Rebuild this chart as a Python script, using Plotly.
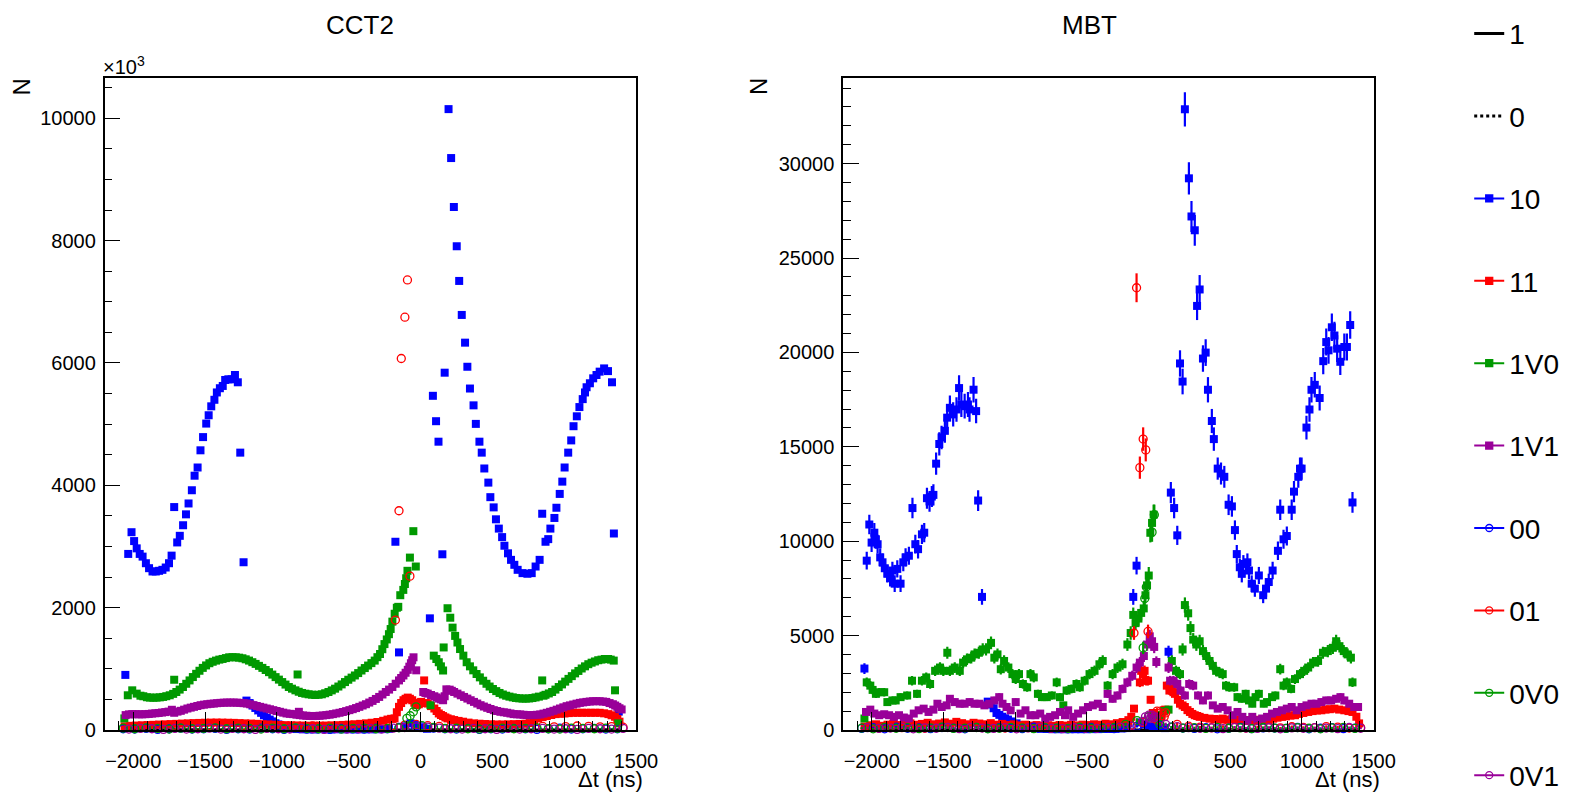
import math
import plotly.graph_objects as go

W, H = 1577, 811
BLUE, RED, GREEN, PURPLE = "#0000ff", "#ff0000", "#009900", "#990099"
FONT = "Liberation Sans, Arial, Helvetica, sans-serif"

LEGEND_NAMES = ["1", "0", "10", "11", "1V0", "1V1", "00", "01", "0V0", "0V1"]
PANEL_TITLES = ["CCT2", "MBT"]
X_RANGE = [-2200, 1500]
Y_RANGE_CCT2 = [0, 10660]
Y_RANGE_MBT = [0, 34540]

# zero-level reference series ("1" and "0")
LINE_1 = [(-2060, 0), (1400, 0)]
LINE_0 = [(-2060, 0), (1400, 0)]

# shared bin centres for the rows of points sitting near zero
ZXA = [-2070, -1990, -1910, -1830, -1750, -1670, -1590, -1510, -1430, -1350, -1270, -1190, -1110, -1030, -950,
       -870, -790, -710, -630, -550, -470, -390, -310, -230, -150, -70, 10, 90, 170, 250, 330, 410, 490, 570,
       650, 730, 810, 890, 970, 1050, 1130, 1210, 1290, 1370]
ZXB = [-2030, -1950, -1870, -1790, -1710, -1630, -1550, -1470, -1390, -1310, -1230, -1150, -1070, -990, -910,
       -830, -750, -670, -590, -510, -430, -350, -270, -190, -110, -30, 50, 130, 210, 290, 370, 450, 530, 610,
       690, 770, 850, 930, 1010, 1090, 1170, 1250, 1330, 1410]

# ---------------- CCT2 (values in units of 10^3) ----------------
CCT2_10 = [(-2055, 900), (-2035, 2878), (-2012, 3233), (-1994, 3088), (-1976, 2969), (-1955, 2878), (-1935, 2834),
           (-1912, 2726), (-1890, 2645), (-1866, 2591), (-1843, 2591), (-1820, 2602), (-1797, 2618), (-1774, 2656),
           (-1751, 2726), (-1733, 2850), (-1715, 3644), (-1694, 3066), (-1676, 3174), (-1653, 3347), (-1633, 3525),
           (-1615, 3703), (-1592, 3919), (-1573, 4157), (-1552, 4291), (-1532, 4572), (-1514, 4788), (-1492, 5009),
           (-1475, 5145), (-1457, 5291), (-1435, 5398), (-1418, 5518), (-1397, 5587), (-1377, 5624), (-1360, 5722),
           (-1338, 5733), (-1315, 5733), (-1292, 5803), (-1272, 5684), (-1255, 4534), (-1232, 2742), (-1212, 480),
           (-1190, 440), (-1170, 400), (-1150, 360), (-1130, 320), (-1110, 280), (-1090, 240), (-1070, 200),
           (-1050, 170), (-1030, 140), (-1010, 110), (-990, 90), (-970, 70), (-950, 55), (-930, 40), (-910, 30),
           (-890, 20), (-860, 15), (-820, 10), (-780, 10), (-740, 8), (-700, 12), (-660, 10), (-620, 9), (-580, 11),
           (-540, 10), (-500, 12), (-460, 9), (-420, 10), (-380, 11), (-340, 10), (-300, 12), (-260, 14), (-220, 20),
           (-175, 3077), (-150, 1268), (-110, 60), (-70, 110), (-40, 80), (-10, 40), (20, 30), (45, 20), (65, 1825),
           (86, 5463), (108, 5048), (125, 4713), (152, 2872), (168, 5841), (195, 10150), (213, 9350), (232, 8550),
           (252, 7908), (269, 7341), (287, 6785), (310, 6332), (326, 5938), (344, 5582), (369, 5307), (385, 5004),
           (410, 4713), (426, 4534), (444, 4275), (472, 4044), (486, 3806), (509, 3639), (525, 3444), (545, 3292),
           (568, 3153), (584, 3012), (609, 2888), (630, 2781), (653, 2700), (676, 2618), (710, 2564), (744, 2554),
           (774, 2564), (801, 2672), (829, 2781), (847, 3535), (870, 3077), (889, 3120), (904, 3292), (932, 3466),
           (946, 3633), (969, 3859), (987, 4060), (1003, 4291), (1028, 4534), (1049, 4734), (1065, 4966),
           (1088, 5128), (1106, 5279), (1129, 5409), (1145, 5518), (1156, 5603), (1179, 5668), (1202, 5749),
           (1225, 5803), (1247, 5858), (1278, 5911), (1305, 5867), (1333, 5684), (1346, 3212), (1380, 300)]

CCT2_11 = [(-2060, 60), (-2020, 68), (-1980, 72), (-1940, 76), (-1900, 80), (-1860, 84), (-1820, 88), (-1780, 92),
           (-1740, 96), (-1700, 100), (-1660, 104), (-1620, 108), (-1580, 112), (-1540, 115), (-1500, 118),
           (-1460, 120), (-1420, 121), (-1380, 120), (-1340, 118), (-1300, 116), (-1260, 112), (-1220, 108),
           (-1180, 104), (-1140, 100), (-1100, 95), (-1060, 90), (-1020, 86), (-980, 82), (-940, 78), (-900, 76),
           (-860, 74), (-820, 72), (-780, 70), (-740, 70), (-700, 70), (-660, 72), (-620, 75), (-580, 78), (-540, 82),
           (-500, 87), (-460, 93), (-420, 100), (-380, 108), (-340, 118), (-300, 130), (-260, 150), (-230, 170),
           (-205, 182), (-181, 189), (-165, 290), (-150, 378), (-135, 440), (-119, 486), (-104, 510), (-89, 529),
           (-74, 510), (-58, 486), (-43, 445), (-27, 405), (-12, 420), (4, 459), (25, 810), (37, 440), (50, 432),
           (73, 390), (96, 351), (112, 310), (127, 270), (142, 245), (157, 227), (173, 205), (188, 189), (211, 175),
           (234, 162), (265, 148), (296, 135), (334, 120), (372, 108), (410, 102), (449, 97), (490, 93), (530, 90),
           (570, 90), (610, 92), (650, 95), (690, 98), (730, 102), (760, 112), (790, 150), (818, 189), (850, 210),
           (879, 227), (910, 245), (940, 259), (970, 265), (1002, 270), (1032, 276), (1063, 281), (1094, 281),
           (1124, 281), (1155, 281), (1186, 281), (1216, 281), (1247, 281), (1278, 272), (1308, 259), (1330, 240),
           (1354, 216), (1370, 180), (1385, 135)]

CCT2_1V0 = [(-2062, 189), (-2038, 567), (-2007, 648), (-1976, 594), (-1950, 560), (-1930, 551), (-1905, 535),
            (-1884, 529), (-1860, 527), (-1838, 529), (-1815, 533), (-1792, 540), (-1770, 552), (-1746, 567),
            (-1722, 590), (-1715, 821), (-1700, 621), (-1677, 660), (-1654, 702), (-1631, 755), (-1608, 810),
            (-1585, 865), (-1562, 918), (-1539, 968), (-1516, 1015), (-1493, 1055), (-1470, 1091), (-1447, 1115),
            (-1424, 1134), (-1401, 1150), (-1378, 1161), (-1355, 1175), (-1332, 1188), (-1309, 1190), (-1286, 1188),
            (-1263, 1182), (-1240, 1172), (-1217, 1155), (-1194, 1134), (-1171, 1108), (-1148, 1080), (-1125, 1048),
            (-1101, 1015), (-1078, 980), (-1055, 945), (-1032, 905), (-1009, 864), (-986, 823), (-963, 783),
            (-940, 742), (-917, 702), (-895, 675), (-871, 648), (-856, 907), (-848, 625), (-825, 605), (-802, 593),
            (-779, 583), (-756, 577), (-733, 572), (-710, 576), (-687, 583), (-664, 600), (-641, 621), (-618, 647),
            (-595, 675), (-572, 710), (-549, 745), (-526, 783), (-503, 821), (-480, 856), (-457, 891), (-434, 930),
            (-411, 972), (-388, 1012), (-365, 1053), (-342, 1093), (-319, 1134), (-300, 1190), (-282, 1242),
            (-266, 1320), (-251, 1404), (-235, 1480), (-220, 1566), (-208, 1650), (-196, 1771), (-180, 1900),
            (-165, 1998), (-155, 2013), (-141, 2203), (-120, 2290), (-109, 2386), (-100, 2480), (-91, 2602),
            (-74, 2818), (-50, 3250), (-33, 2672), (69, 405), (92, 1215), (110, 1160), (127, 1107), (142, 1040),
            (157, 972), (161, 1349), (188, 1990), (207, 1835), (223, 1673), (241, 1538), (257, 1430), (275, 1323),
            (298, 1215), (321, 1107), (344, 1040), (367, 975), (390, 915), (413, 860), (436, 805), (459, 755),
            (481, 710), (504, 670), (527, 635), (550, 605), (573, 580), (596, 560), (619, 545), (642, 533), (664, 523),
            (687, 517), (710, 513), (733, 513), (756, 515), (779, 522), (801, 532), (824, 545), (847, 810), (856, 560),
            (870, 575), (893, 597), (916, 621), (939, 660), (962, 702), (985, 745), (1007, 790), (1030, 835),
            (1053, 880), (1076, 925), (1099, 965), (1122, 1005), (1145, 1040), (1168, 1075), (1191, 1100),
            (1214, 1120), (1237, 1140), (1260, 1150), (1283, 1160), (1306, 1160), (1324, 1150), (1345, 1134),
            (1354, 648), (1376, 108)]

CCT2_1V1 = [(-2053, 243), (-2030, 255), (-2007, 258), (-1984, 258), (-1961, 256), (-1938, 256), (-1915, 258),
            (-1892, 262), (-1869, 268), (-1846, 273), (-1823, 278), (-1800, 285), (-1777, 292), (-1754, 300),
            (-1731, 330), (-1715, 281), (-1692, 300), (-1669, 313), (-1646, 332), (-1623, 351), (-1600, 365),
            (-1577, 378), (-1554, 392), (-1531, 405), (-1508, 414), (-1485, 421), (-1462, 428), (-1439, 432),
            (-1416, 438), (-1393, 443), (-1370, 446), (-1347, 448), (-1324, 448), (-1301, 448), (-1278, 446),
            (-1255, 443), (-1232, 438), (-1209, 432), (-1186, 420), (-1163, 405), (-1140, 392), (-1117, 378),
            (-1094, 365), (-1071, 351), (-1048, 338), (-1025, 324), (-1002, 310), (-979, 297), (-956, 283),
            (-933, 270), (-910, 264), (-887, 259), (-864, 250), (-847, 297), (-841, 243), (-818, 237), (-795, 232),
            (-772, 229), (-749, 227), (-726, 229), (-703, 232), (-680, 237), (-656, 243), (-633, 250), (-610, 259),
            (-587, 270), (-564, 281), (-541, 294), (-518, 308), (-495, 324), (-472, 340), (-449, 358), (-426, 378),
            (-403, 400), (-380, 421), (-357, 448), (-334, 475), (-311, 507), (-288, 540), (-265, 580), (-242, 621),
            (-219, 660), (-196, 702), (-173, 756), (-150, 810), (-135, 850), (-119, 891), (-104, 935), (-89, 983),
            (-78, 1035), (-67, 1091), (-58, 1140), (-49, 1188), (-30, 975), (19, 621), (34, 605), (50, 594),
            (73, 572), (96, 551), (112, 532), (127, 513), (142, 500), (157, 486), (168, 551), (180, 664), (203, 659),
            (218, 640), (234, 621), (257, 594), (280, 567), (303, 540), (326, 513), (349, 486), (372, 459), (395, 432),
            (418, 405), (441, 383), (464, 362), (487, 343), (510, 324), (533, 310), (556, 297), (580, 289), (603, 281),
            (626, 270), (648, 259), (671, 256), (694, 254), (717, 248), (740, 243), (763, 243), (786, 243), (810, 248),
            (833, 254), (856, 267), (879, 281), (902, 297), (925, 313), (948, 332), (971, 351), (994, 370),
            (1017, 389), (1040, 402), (1063, 416), (1086, 430), (1109, 443), (1132, 451), (1155, 459), (1178, 465),
            (1201, 470), (1224, 470), (1247, 470), (1270, 465), (1293, 459), (1316, 440), (1339, 421), (1355, 400),
            (1370, 378), (1385, 355), (1400, 335)]

CCT2_00_ROW = [20, 15, 25, 10, 20, 30, 15, 20, 25, 10, 20, 15, 30, 20, 10, 25, 15, 20, 10, 25, 20, 15, 30, 20, 40,
               60, 50, 30, 20, 15, 25, 10, 20, 15, 25, 20, 10, 20, 30, 15, 20, 25, 15, 20]
CCT2_01_ROW = [50, 60, 45, 55, 65, 50, 60, 70, 55, 50, 65, 60, 45, 55, 60, 50, 65, 55, 45, 60, 50, 55, 65, 70, 80,
               90, 70, 60, 55, 50, 45, 55, 60, 50, 45, 55, 60, 50, 55, 65, 60, 50, 55, 45]
CCT2_01_PEAK = [(-175, 1797), (-150, 3584), (-134, 6073), (-109, 6748), (-91, 7357), (-74, 2515)]
CCT2_0V0_ROW = [30, 20, 35, 25, 15, 30, 20, 25, 35, 20, 30, 25, 15, 30, 20, 35, 25, 20, 30, 15, 25, 30, 20, 25, 35,
                60, 70, 40, 25, 30, 20, 15, 25, 30, 20, 25, 35, 20, 15, 30, 25, 20, 30, 25]
CCT2_0V0_PEAK = [(-95, 190), (-72, 232), (-50, 297), (-31, 378)]
CCT2_0V1_ROW = [15, 25, 20, 10, 25, 15, 20, 30, 15, 25, 20, 10, 25, 20, 15, 30, 20, 10, 25, 15, 20, 25, 15, 30, 40,
                50, 45, 30, 20, 15, 25, 20, 10, 25, 15, 20, 25, 15, 20, 10, 25, 20, 15, 25]

# ---------------- MBT ----------------
MBT_10 = [(-2051, 3254), (-2035, 8968), (-2017, 10884), (-2001, 9926), (-1982, 10449), (-1971, 10100), (-1959, 9839),
          (-1941, 9142), (-1925, 8881), (-1909, 8567), (-1891, 8271), (-1872, 8045), (-1856, 8445), (-1840, 7749),
          (-1822, 8532), (-1799, 7749), (-1780, 8881), (-1764, 9142), (-1741, 9229), (-1716, 11755), (-1696, 9839),
          (-1677, 9578), (-1650, 10362), (-1634, 10449), (-1615, 12278), (-1597, 12104), (-1581, 12365),
          (-1570, 12452), (-1551, 14107), (-1529, 15149), (-1513, 15498), (-1490, 15846), (-1474, 16543),
          (-1455, 17065), (-1432, 16717), (-1409, 16978), (-1391, 18111), (-1375, 17240), (-1352, 17152),
          (-1329, 17240), (-1318, 16978), (-1290, 18024), (-1272, 16891), (-1258, 12153), (-1231, 7049),
          (-1191, 1500), (-1170, 1350), (-1150, 1150), (-1130, 900), (-1110, 800), (-1090, 700), (-1070, 620),
          (-1050, 550), (-1020, 450), (-990, 350), (-960, 250), (-930, 180), (-900, 120), (-860, 80), (-820, 60),
          (-780, 50), (-740, 40), (-700, 40), (-660, 40), (-620, 40), (-580, 40), (-540, 40), (-500, 40), (-460, 45),
          (-420, 45), (-380, 50), (-340, 50), (-300, 60), (-260, 80), (-220, 100), (-176, 7049), (-153, 8704),
          (-130, 400), (-100, 300), (-70, 250), (-40, 200), (-10, 150), (20, 120), (45, 100), (70, 4143),
          (86, 12574), (109, 11755), (131, 10309), (150, 19415), (168, 18457), (184, 32880), (212, 29222),
          (230, 27201), (253, 26470), (269, 22463), (287, 23334), (310, 19676), (329, 19990), (345, 18021),
          (372, 16366), (386, 15408), (413, 13845), (436, 13584), (459, 13410), (489, 11929), (512, 11842),
          (533, 10588), (546, 9316), (567, 8620), (581, 8271), (592, 8794), (620, 8881), (631, 8445), (650, 7749),
          (672, 7487), (700, 8184), (730, 7139), (750, 7487), (769, 7836), (796, 8445), (833, 9490), (849, 11668),
          (872, 10100), (895, 10275), (929, 11668), (945, 12626), (975, 13410), (987, 13840), (998, 13845),
          (1032, 16018), (1053, 16976), (1067, 18021), (1090, 18282), (1124, 17585), (1149, 19537), (1170, 20547),
          (1186, 20111), (1209, 21330), (1227, 20895), (1246, 20198), (1268, 19502), (1296, 20286), (1314, 20286),
          (1337, 21453), (1353, 12051)]

MBT_11 = [(-2050, 180), (-2010, 250), (-1970, 300), (-1930, 220), (-1890, 280), (-1850, 330), (-1810, 260),
          (-1770, 300), (-1730, 350), (-1690, 280), (-1650, 320), (-1610, 380), (-1570, 300), (-1530, 340),
          (-1490, 400), (-1450, 330), (-1410, 430), (-1370, 360), (-1330, 300), (-1290, 380), (-1250, 340),
          (-1210, 300), (-1170, 360), (-1130, 280), (-1090, 320), (-1050, 260), (-1010, 300), (-970, 240),
          (-930, 280), (-890, 230), (-850, 260), (-810, 210), (-770, 250), (-730, 220), (-690, 260), (-650, 230),
          (-610, 270), (-570, 240), (-530, 280), (-490, 260), (-450, 300), (-410, 280), (-370, 330), (-330, 300),
          (-290, 360), (-250, 420), (-210, 520), (-190, 694), (-171, 1129), (-130, 2522), (-121, 3132),
          (-108, 2958), (-97, 3132), (-86, 2609), (-73, 2609), (-55, 1600), (-40, 900), (-20, 600), (0, 500),
          (20, 700), (35, 1042), (47, 1077), (58, 2348), (76, 2087), (93, 2174), (104, 2000), (115, 1913),
          (135, 1600), (150, 1390), (168, 1300), (184, 1216), (202, 1050), (219, 954), (236, 850), (253, 781),
          (270, 740), (287, 694), (320, 640), (356, 600), (390, 580), (420, 560), (448, 600), (480, 540), (510, 560),
          (540, 520), (570, 540), (600, 520), (631, 520), (660, 500), (690, 540), (720, 500), (750, 540), (769, 520),
          (800, 600), (830, 650), (861, 694), (890, 720), (920, 760), (952, 781), (980, 850), (1010, 900),
          (1044, 954), (1075, 1000), (1105, 1030), (1136, 1042), (1165, 1080), (1195, 1100), (1227, 1129),
          (1260, 1080), (1296, 1042), (1325, 1000), (1353, 954), (1380, 700), (1399, 348)]

MBT_1V0 = [(-2051, 606), (-2035, 2522), (-2010, 2348), (-1994, 2122), (-1971, 1913), (-1948, 2000), (-1913, 2000),
           (-1891, 1477), (-1856, 1564), (-1833, 1564), (-1799, 1739), (-1753, 1826), (-1719, 2609), (-1684, 1913),
           (-1650, 2609), (-1620, 2784), (-1593, 2435), (-1558, 3132), (-1524, 3306), (-1501, 3132), (-1473, 4090),
           (-1455, 3132), (-1421, 3306), (-1386, 3132), (-1363, 3568), (-1336, 3742), (-1306, 3829), (-1283, 4003),
           (-1253, 4090), (-1226, 4265), (-1203, 4265), (-1168, 4613), (-1145, 3829), (-1123, 4003), (-1100, 3219),
           (-1077, 3655), (-1047, 3306), (-1019, 2958), (-996, 2697), (-973, 2958), (-946, 2435), (-916, 2261),
           (-893, 2958), (-870, 2784), (-841, 1913), (-813, 1739), (-779, 1739), (-744, 1826), (-710, 2522),
           (-687, 1739), (-664, 1303), (-641, 2087), (-607, 2174), (-572, 2435), (-549, 2261), (-515, 2609),
           (-481, 2958), (-446, 3132), (-412, 3480), (-389, 3655), (-355, 2348), (-320, 2958), (-286, 3306),
           (-251, 3480), (-217, 4526), (-194, 5135), (-176, 6094), (-160, 5658), (-140, 5900), (-121, 6200),
           (-103, 6439), (-91, 7136), (-80, 7658), (-68, 8181), (-57, 10445), (-45, 10968), (-34, 11404),
           (10, 800), (40, 1000), (70, 1077), (93, 3655), (122, 3132), (150, 2958), (168, 4265), (184, 6616),
           (207, 6181), (223, 5397), (242, 4787), (264, 4526), (287, 4700), (310, 4178), (333, 3916), (356, 3655),
           (379, 3394), (402, 3132), (425, 3045), (448, 2958), (471, 2348), (494, 2261), (528, 2261), (551, 1739),
           (581, 1652), (608, 1913), (631, 1564), (654, 1390), (677, 1739), (700, 1913), (734, 1390), (757, 1477),
           (792, 1739), (815, 1826), (849, 3219), (872, 2348), (895, 2522), (925, 2174), (952, 2697), (987, 2958),
           (1016, 3132), (1044, 3306), (1078, 3568), (1113, 3655), (1147, 4090), (1181, 4178), (1216, 4352),
           (1239, 4700), (1262, 4439), (1292, 4178), (1319, 4003), (1342, 3829), (1353, 2522)]

MBT_1V1 = [(-2040, 954), (-2010, 1077), (-1982, 868), (-1948, 781), (-1913, 833), (-1879, 781), (-1845, 694),
           (-1810, 781), (-1776, 659), (-1741, 606), (-1707, 868), (-1673, 1042), (-1638, 1129), (-1604, 954),
           (-1570, 1077), (-1542, 1390), (-1512, 1216), (-1478, 1303), (-1455, 1652), (-1421, 1477), (-1386, 1390),
           (-1352, 1390), (-1317, 1477), (-1283, 1390), (-1249, 1390), (-1214, 1303), (-1180, 1390), (-1145, 1564),
           (-1111, 1739), (-1088, 1390), (-1060, 1216), (-1031, 1042), (-996, 1477), (-962, 868), (-928, 1042),
           (-893, 781), (-859, 781), (-825, 868), (-790, 606), (-756, 694), (-721, 781), (-687, 954), (-652, 781),
           (-630, 1042), (-595, 694), (-561, 868), (-526, 1042), (-492, 1216), (-458, 1303), (-423, 1390),
           (-389, 1216), (-355, 1913), (-320, 1652), (-286, 1826), (-251, 2174), (-217, 2522), (-183, 2870),
           (-153, 3306), (-130, 3568), (-102, 3916), (-80, 4526), (-61, 4961), (-45, 4700), (-30, 4400),
           (-15, 3600), (70, 3306), (81, 2609), (104, 2609), (131, 2435), (154, 2087), (184, 1826), (214, 2435),
           (242, 2348), (276, 1826), (310, 1564), (345, 1826), (379, 1303), (413, 1129), (448, 1216), (482, 1042),
           (517, 781), (551, 954), (585, 694), (620, 520), (654, 694), (689, 520), (723, 606), (757, 694), (792, 868),
           (826, 954), (861, 1042), (895, 1129), (929, 1216), (964, 1042), (998, 1216), (1032, 1303), (1067, 1390),
           (1101, 1390), (1136, 1477), (1170, 1564), (1204, 1564), (1239, 1652), (1269, 1739), (1296, 1564),
           (1330, 1390), (1365, 1216), (1392, 1216)]

MBT_00_ROW = [80, 120, 60, 150, 90, 110, 70, 130, 100, 60, 140, 80, 120, 90, 70, 150, 100, 80, 60, 110, 130, 90, 70,
              120, 200, 350, 250, 150, 100, 80, 120, 60, 90, 140, 70, 110, 100, 80, 130, 60, 90, 120, 70, 100]
MBT_01_ROW = [150, 100, 200, 120, 180, 90, 160, 140, 110, 190, 130, 170, 100, 150, 120, 180, 90, 140, 160, 110, 130,
              170, 150, 250, 400, 600, 900, 300, 200, 150, 120, 180, 140, 100, 160, 130, 110, 170, 140, 120, 180, 150,
              100, 130]
MBT_01_PEAK = [(-171, 5133), (-153, 23424), (-130, 13895), (-107, 15410), (-89, 14835), (-73, 5219), (-10, 1000),
               (15, 900), (40, 700)]
MBT_0V0_ROW = [100, 60, 140, 90, 120, 70, 110, 150, 80, 100, 130, 60, 90, 140, 110, 70, 120, 100, 80, 150, 90, 110,
               130, 300, 500, 700, 300, 150, 100, 120, 80, 140, 90, 110, 70, 130, 100, 80, 120, 90, 60, 110, 140, 80]
MBT_0V0_PEAK = [(-107, 4348), (-96, 6961), (-85, 7571), (-45, 10480), (-29, 11404)]
MBT_0V1_ROW = [120, 80, 100, 150, 60, 110, 90, 130, 70, 140, 100, 80, 120, 60, 110, 150, 90, 70, 130, 100, 80, 120,
               150, 200, 450, 650, 300, 180, 120, 90, 110, 70, 140, 100, 80, 130, 60, 110, 90, 120, 100, 70, 130, 90]
MBT_0V1_PEAK = [(-91, 694), (-68, 781), (-56, 606), (-45, 781), (-22, 694)]


def px(x):
    return x / W


def py(y):
    return 1 - y / H


fig = go.Figure()


def add_pts(pairs, color, filled, xa, ya, errors):
    xs = [p[0] for p in pairs]
    ys = [p[1] for p in pairs]
    if filled:
        marker = dict(symbol="square", size=8, color=color, line=dict(width=0))
    else:
        marker = dict(symbol="circle-open", size=8, color=color, line=dict(width=1.3, color=color))
    kw = {}
    if errors:
        kw["error_y"] = dict(type="data", array=[5 * math.sqrt(max(v, 0)) for v in ys],
                             color=color, thickness=2.2, width=0)
    fig.add_trace(go.Scatter(x=xs, y=ys, mode="markers", marker=marker, showlegend=False,
                             xaxis=xa, yaxis=ya, cliponaxis=False, hoverinfo="skip", **kw))


def add_zero_lines(xa, ya):
    for pairs, dash in ((LINE_1, "solid"), (LINE_0, "dot")):
        fig.add_trace(go.Scatter(x=[p[0] for p in pairs], y=[p[1] for p in pairs], mode="lines",
                                 line=dict(color="black", width=3, dash=dash), showlegend=False,
                                 xaxis=xa, yaxis=ya, hoverinfo="skip"))


def add_panel(xa, ya, s10, s11, s1v0, s1v1, r00, r01, p01, r0v0, p0v0, r0v1, p0v1, errors):
    add_zero_lines(xa, ya)
    add_pts(s10, BLUE, True, xa, ya, errors)
    add_pts(s11, RED, True, xa, ya, errors)
    add_pts(s1v0, GREEN, True, xa, ya, errors)
    add_pts(s1v1, PURPLE, True, xa, ya, errors)
    add_pts(list(zip(ZXA, r00)), BLUE, False, xa, ya, errors)
    add_pts(list(zip(ZXB, r01)) + p01, RED, False, xa, ya, errors)
    add_pts(list(zip(ZXA, r0v0)) + p0v0, GREEN, False, xa, ya, errors)
    add_pts(list(zip(ZXB, r0v1)) + p0v1, PURPLE, False, xa, ya, errors)


add_panel("x", "y", CCT2_10, CCT2_11, CCT2_1V0, CCT2_1V1, CCT2_00_ROW, CCT2_01_ROW, CCT2_01_PEAK,
          CCT2_0V0_ROW, CCT2_0V0_PEAK, CCT2_0V1_ROW, [], False)
add_panel("x2", "y2", MBT_10, MBT_11, MBT_1V0, MBT_1V1, MBT_00_ROW, MBT_01_ROW, MBT_01_PEAK,
          MBT_0V0_ROW, MBT_0V0_PEAK, MBT_0V1_ROW, MBT_0V1_PEAK, True)

# legend entries
legend_styles = [("black", None, "solid"), ("black", None, "dot"),
                 (BLUE, "square", "solid"), (RED, "square", "solid"), (GREEN, "square", "solid"),
                 (PURPLE, "square", "solid"), (BLUE, "circle-open", "solid"), (RED, "circle-open", "solid"),
                 (GREEN, "circle-open", "solid"), (PURPLE, "circle-open", "solid")]
for name, (col, sym, dash) in zip(LEGEND_NAMES, legend_styles):
    if sym is None:
        fig.add_trace(go.Scatter(x=[None], y=[None], mode="lines", name=name, legendgroup=name,
                                 line=dict(color=col, width=3, dash=dash), xaxis="x", yaxis="y"))
    else:
        fig.add_trace(go.Scatter(x=[None], y=[None], mode="lines+markers", name=name, legendgroup=name,
                                 line=dict(color=col, width=2),
                                 marker=dict(symbol=sym, size=7, color=col, line=dict(width=1.3, color=col)),
                                 xaxis="x", yaxis="y"))

ydom = [1 - 740 / H, 1 - 79 / H]


def xaxis_cfg(dom, anchor):
    return dict(domain=dom, anchor=anchor, range=X_RANGE, tick0=0, dtick=500, ticks="inside", ticklen=18,
                tickwidth=1, tickcolor="black", showline=True, mirror=True, linecolor="black", linewidth=1.5,
                showgrid=False, zeroline=False, tickfont=dict(size=20, color="black"), ticklabelstandoff=12,
                minor=dict(ticks="inside", dtick=100, tick0=0, ticklen=9, tickcolor="black", tickwidth=1,
                           showgrid=False))


def yaxis_cfg(rng, major, minor, anchor):
    return dict(domain=ydom, anchor=anchor, range=rng, tick0=0, dtick=major, tickformat="d", ticks="inside",
                ticklen=16, tickwidth=1, tickcolor="black", showline=True, mirror=True, linecolor="black",
                linewidth=1.5, showgrid=False, zeroline=False, tickfont=dict(size=20, color="black"),
                ticklabelstandoff=3,
                minor=dict(ticks="inside", dtick=minor, tick0=0, ticklen=8, tickcolor="black", tickwidth=1,
                           showgrid=False))


annotations = [
    dict(text=PANEL_TITLES[0], x=px(365), y=py(25), font=dict(size=26)),
    dict(text=PANEL_TITLES[1], x=px(1105), y=py(25), font=dict(size=26)),
    dict(text="N", x=px(22), y=py(88), textangle=-90, font=dict(size=24)),
    dict(text="N", x=px(770), y=py(88), textangle=-90, font=dict(size=24)),
    dict(text="×10<sup>3</sup>", x=px(102), y=py(66), xanchor="left", font=dict(size=20)),
    dict(text="Δt (ns)", x=px(654), y=py(790), xanchor="right", font=dict(size=22)),
    dict(text="Δt (ns)", x=px(1402), y=py(790), xanchor="right", font=dict(size=22)),
]
for a in annotations:
    a.setdefault("xanchor", "center")
    a.update(xref="paper", yref="paper", yanchor="middle", showarrow=False)
    a["font"]["color"] = "black"

fig.update_layout(
    width=W, height=H, autosize=False,
    margin=dict(l=0, r=0, t=0, b=0, pad=0),
    paper_bgcolor="white", plot_bgcolor="white",
    font=dict(family=FONT, color="black"),
    xaxis=xaxis_cfg([106 / W, 645 / W], "y"),
    yaxis=yaxis_cfg(Y_RANGE_CCT2, 2000, 500, "x"),
    xaxis2=xaxis_cfg([855 / W, 1393 / W], "y2"),
    yaxis2=yaxis_cfg(Y_RANGE_MBT, 5000, 1000, "x2"),
    annotations=annotations,
    showlegend=True,
    legend=dict(x=px(1490), y=py(9), xanchor="left", yanchor="top", font=dict(size=28, color="black"),
                tracegroupgap=43, traceorder="grouped", bgcolor="rgba(0,0,0,0)", itemwidth=30,
                maxheight=1.0),
    hovermode=False,
)

fig.write_html("out.html")
